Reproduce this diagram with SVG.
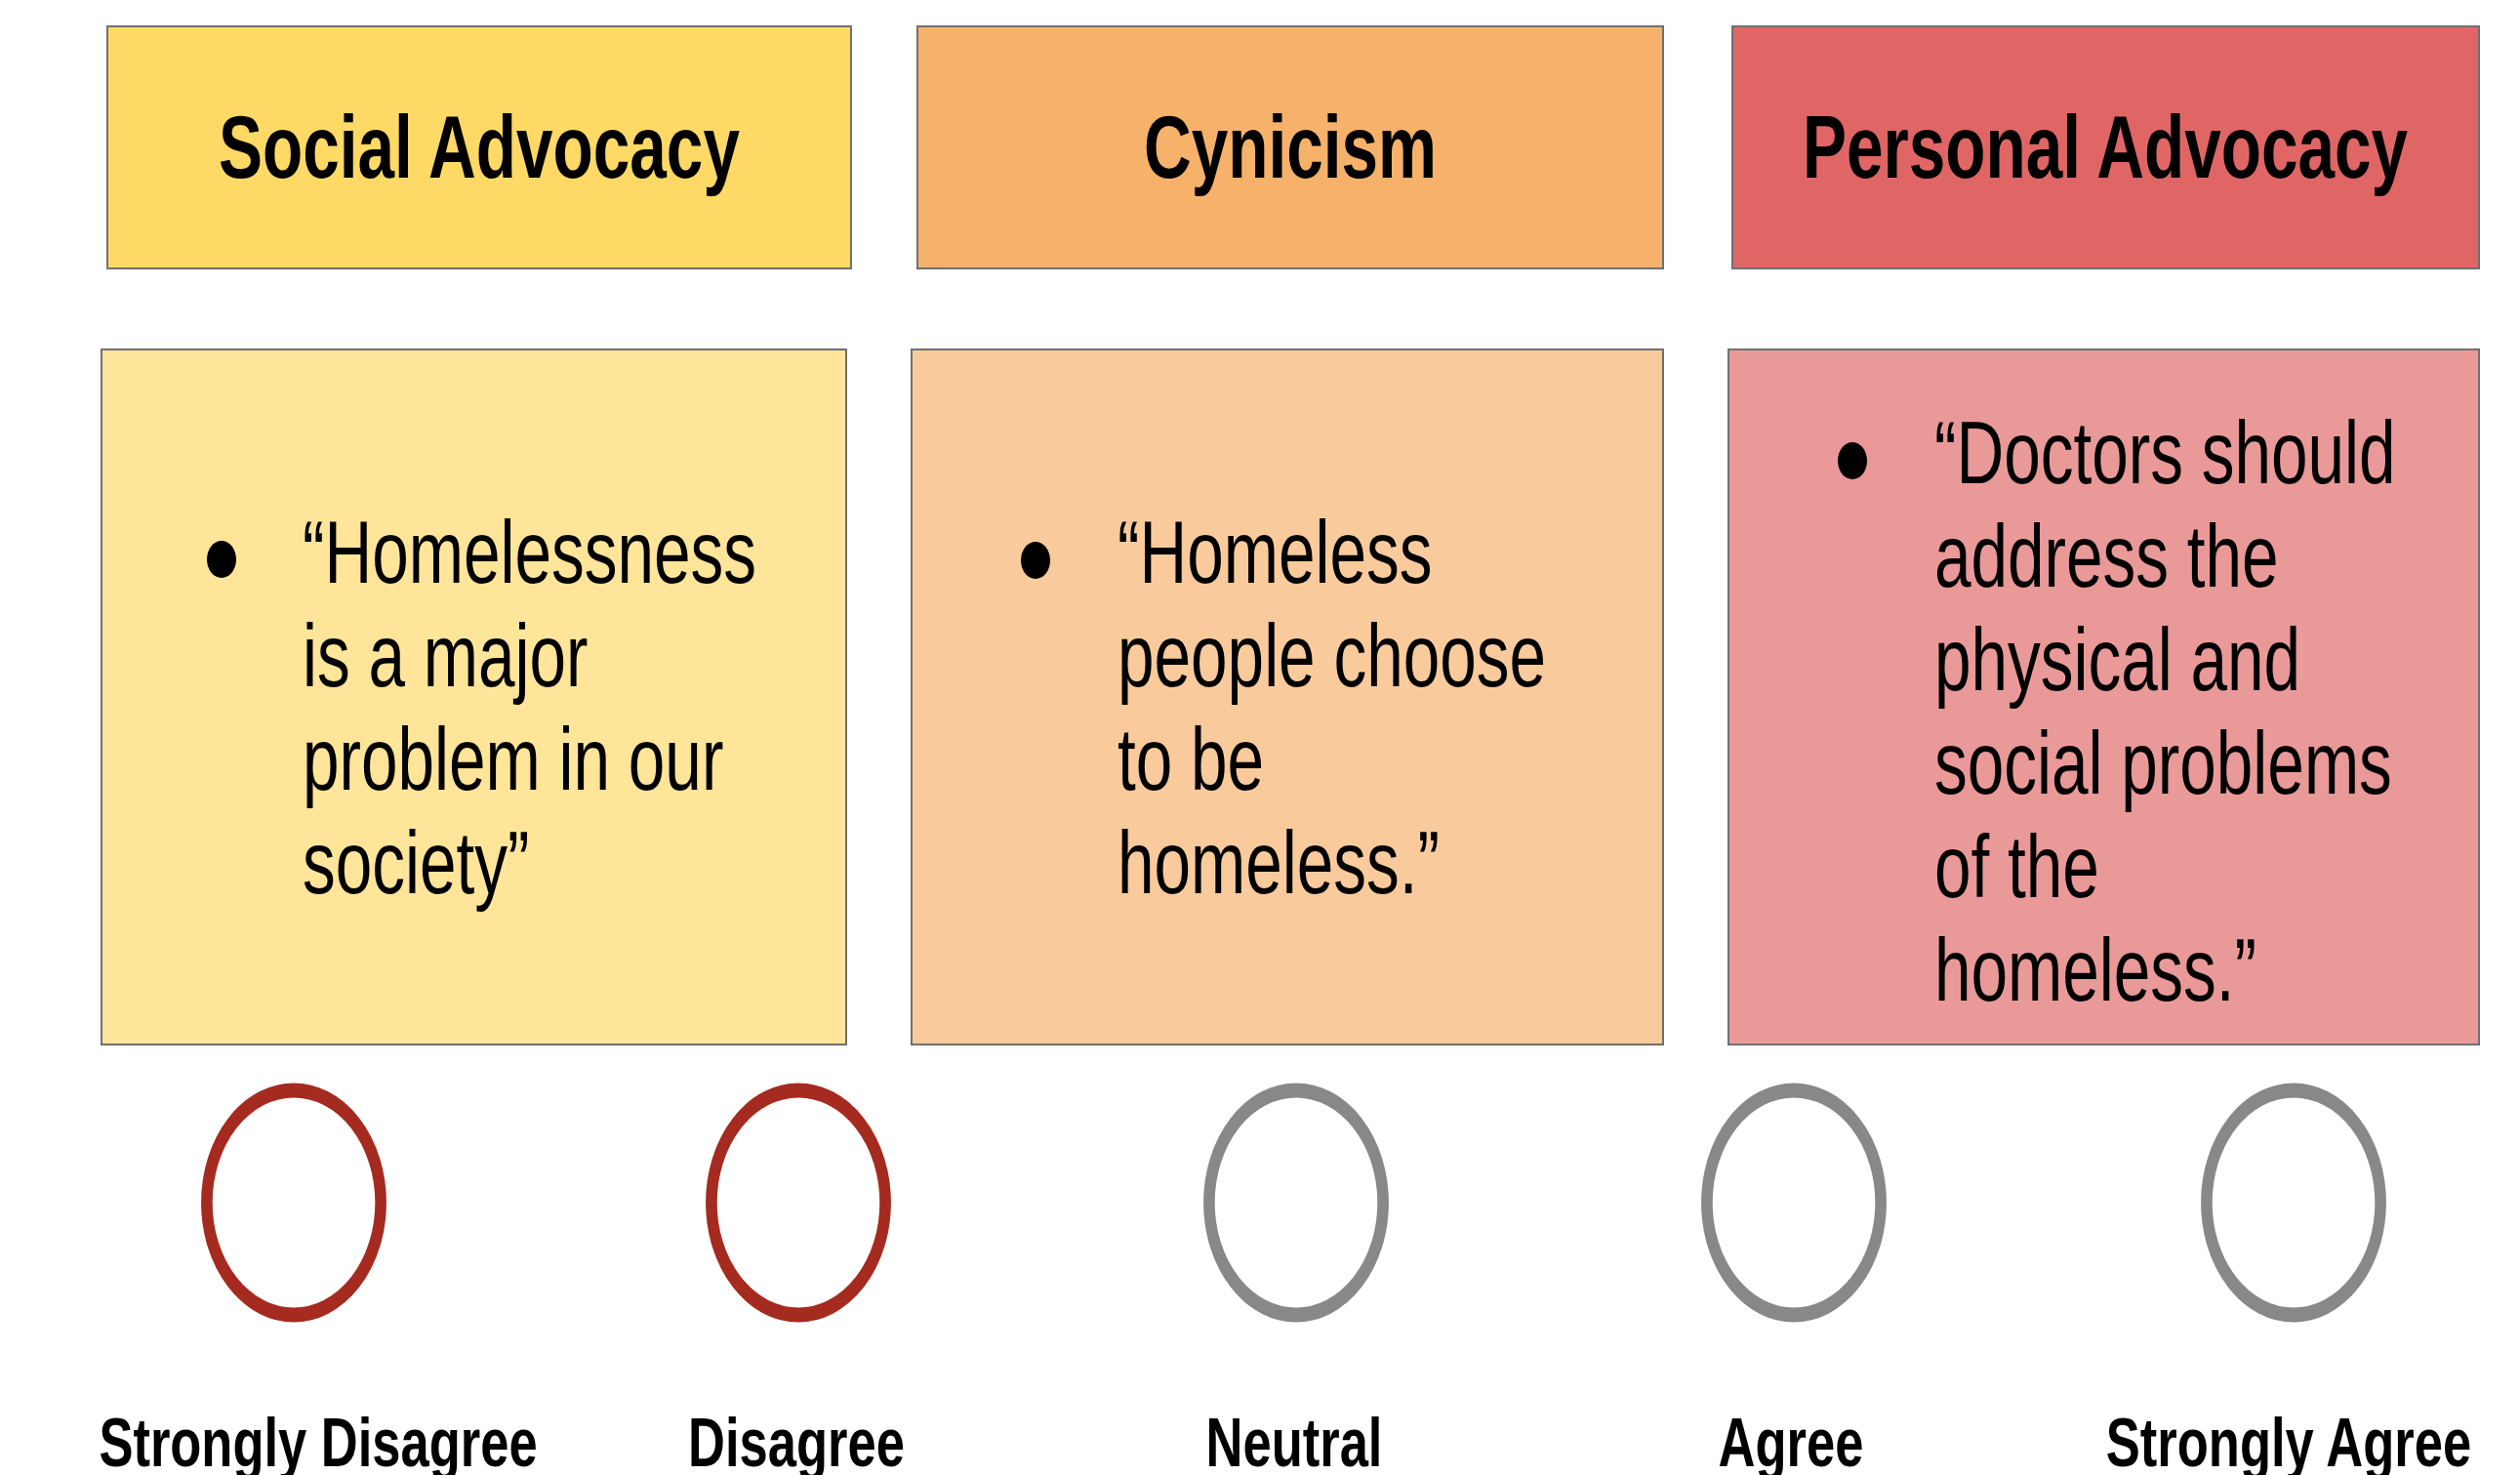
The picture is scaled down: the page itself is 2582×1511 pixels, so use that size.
<svg xmlns="http://www.w3.org/2000/svg" width="2582" height="1511" viewBox="0 0 2582 1511">
<style>
.box{stroke:#707070;stroke-width:2}
.hdr{font-family:"Liberation Sans",Arial,sans-serif;font-weight:bold;font-size:90px;fill:#000;text-anchor:middle}
.body{font-family:"Liberation Sans",Arial,sans-serif;font-size:90px;fill:#000}
.lbl{font-family:"Liberation Sans",Arial,sans-serif;font-weight:bold;font-size:70px;fill:#000;text-anchor:middle}
.red{fill:none;stroke:#A52A1F;stroke-width:15}
.gray{fill:none;stroke:#888888;stroke-width:15}
.dot{fill:#000}
</style>
<rect width="2582" height="1511" fill="#ffffff"/>
<g id="connectors"></g>
<g id="header-social">
<rect class="box" x="110" y="27" width="762" height="248" fill="#FFD966"/>
<text class="hdr" transform="translate(491,182) scale(0.75,1)">Social Advocacy</text>
</g>
<g id="header-cynicism">
<rect class="box" x="940" y="27" width="764" height="248" fill="#F6B26B"/>
<text class="hdr" transform="translate(1322,182) scale(0.75,1)">Cynicism</text>
</g>
<g id="header-personal">
<rect class="box" x="1775" y="27" width="765" height="248" fill="#E06666"/>
<text class="hdr" transform="translate(2157,182) scale(0.75,1)">Personal Advocacy</text>
</g>
<g id="body-social">
<rect class="box" x="104" y="358" width="763" height="712" fill="#FFE599"/>
<ellipse class="dot" cx="227" cy="573" rx="15" ry="19"/>
<text class="body" transform="translate(310,597) scale(0.75,1)"><tspan x="0" y="0">“Homelessness</tspan><tspan x="0" y="106">is a major</tspan><tspan x="0" y="212">problem in our</tspan><tspan x="0" y="318">society”</tspan></text>
</g>
<g id="body-cynicism">
<rect class="box" x="934" y="358" width="770" height="712" fill="#F9CB9C"/>
<ellipse class="dot" cx="1061" cy="574" rx="15" ry="19"/>
<text class="body" transform="translate(1145,597) scale(0.75,1)"><tspan x="0" y="0">“Homeless</tspan><tspan x="0" y="106">people choose</tspan><tspan x="0" y="212">to be</tspan><tspan x="0" y="318">homeless.”</tspan></text>
</g>
<g id="body-personal">
<rect class="box" x="1771" y="358" width="769" height="712" fill="#EA9999"/>
<ellipse class="dot" cx="1898" cy="472" rx="15" ry="19"/>
<text class="body" transform="translate(1982,495) scale(0.75,1)"><tspan x="0" y="0">“Doctors should</tspan><tspan x="0" y="106">address the</tspan><tspan x="0" y="212">physical and</tspan><tspan x="0" y="318">social problems</tspan><tspan x="0" y="424">of the</tspan><tspan x="0" y="530">homeless.”</tspan></text>
</g>
<g id="option-strongly-disagree">
<circle class="red" cx="0" cy="0" r="115" transform="translate(301,1232) scale(0.775,1)"/>
<text class="lbl" transform="translate(326,1502) scale(0.75,1)">Strongly Disagree</text>
</g>
<g id="option-disagree">
<circle class="red" cx="0" cy="0" r="115" transform="translate(818,1232) scale(0.775,1)"/>
<text class="lbl" transform="translate(816,1502) scale(0.75,1)">Disagree</text>
</g>
<g id="option-neutral">
<circle class="gray" cx="0" cy="0" r="115" transform="translate(1328,1232) scale(0.775,1)"/>
<text class="lbl" transform="translate(1326,1502) scale(0.75,1)">Neutral</text>
</g>
<g id="option-agree">
<circle class="gray" cx="0" cy="0" r="115" transform="translate(1838,1232) scale(0.775,1)"/>
<text class="lbl" transform="translate(1835,1502) scale(0.75,1)">Agree</text>
</g>
<g id="option-strongly-agree">
<circle class="gray" cx="0" cy="0" r="115" transform="translate(2350,1232) scale(0.775,1)"/>
<text class="lbl" transform="translate(2345,1502) scale(0.75,1)">Strongly Agree</text>
</g>
</svg>
